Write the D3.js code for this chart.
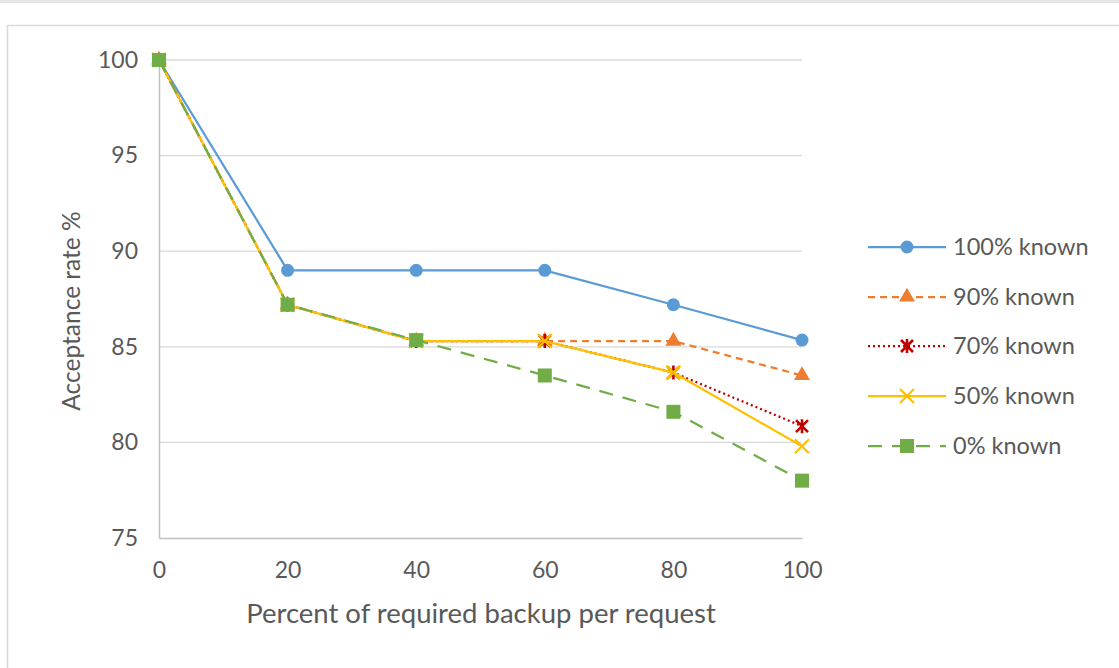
<!DOCTYPE html>
<html><head><meta charset="utf-8">
<script src="https://cdn.jsdelivr.net/npm/d3@7"></script>
<style>body{margin:0;background:#fff;} svg{display:block;}</style>
</head><body>
<svg id="chart" width="1119" height="668"></svg>
<script>
const xValues = [0, 20, 40, 60, 80, 100];
const yTicks = [75, 80, 85, 90, 95, 100];
const seriesNames = ["100% known", "90% known", "70% known", "50% known", "0% known"];
const known100 = [100, 89.0, 89.0, 89.0, 87.2, 85.35];
const known90 = [100, 87.2, 85.3, 85.3, 85.3, 83.5];
const known70 = [100, 87.2, 85.3, 85.3, 83.65, 80.85];
const known50 = [100, 87.2, 85.3, 85.3, 83.65, 79.8];
const known0 = [100, 87.2, 85.35, 83.5, 81.6, 78.0];
const xTitle = "Percent of required backup per request";
const yTitle = "Acceptance rate %";

const seriesValues = [known100, known90, known70, known50, known0];
const styles = [
  {color:"#5B9BD5", dash:null, marker:"circle", width:2.25},
  {color:"#ED7D31", dash:"7,5", marker:"triangle", width:2.25},
  {color:"#C00000", dash:"2,3", marker:"star", width:2.25},
  {color:"#FFC000", dash:null, marker:"x", width:2.25},
  {color:"#70AD47", dash:"14,10", marker:"square", width:2.25}
];

const svg = d3.select("#chart");
const font = "Lato, 'Open Sans', sans-serif";
const textColor = "#595959";

svg.append("rect").attr("x",0).attr("y",0).attr("width",1119).attr("height",3).attr("fill","#e6e6e6");
svg.append("rect").attr("x",7.5).attr("y",25.5).attr("width",1120).attr("height",650)
  .attr("fill","#fff").attr("stroke","#d9d9d9").attr("stroke-width",1.5);

const x = d3.scaleLinear().domain([0,100]).range([159,802]);
const y = d3.scaleLinear().domain([75,100]).range([538,60]);

svg.append("g").selectAll("line").data(yTicks.filter(d=>d>75)).join("line")
  .attr("x1",x(0)).attr("x2",x(100)).attr("y1",d=>y(d)).attr("y2",d=>y(d))
  .attr("stroke","#d9d9d9").attr("stroke-width",1.3);

const yAxis = d3.axisLeft(y).tickValues(yTicks).tickSize(0).tickPadding(21);
const gy = svg.append("g").attr("transform",`translate(${x(0)},0)`).call(yAxis);
gy.select(".domain").attr("stroke","#bfbfbf").attr("stroke-width",1.5);
gy.selectAll("text").attr("font-family",font).attr("font-size",23).attr("fill",textColor);

const xAxis = d3.axisBottom(x).tickValues(xValues).tickSize(0).tickPadding(24);
const gx = svg.append("g").attr("transform",`translate(0,${y(75)})`).call(xAxis);
gx.select(".domain").attr("stroke","#bfbfbf").attr("stroke-width",1.5);
gx.selectAll("text").attr("font-family",font).attr("font-size",23).attr("fill",textColor);

svg.append("text").attr("x",481).attr("y",623).attr("text-anchor","middle")
  .attr("font-family",font).attr("font-size",27.5).attr("fill",textColor).text(xTitle);
svg.append("text").attr("transform",`translate(80,${y(87.5)+12}) rotate(-90)`).attr("text-anchor","middle")
  .attr("font-family",font).attr("font-size",24.5).attr("fill",textColor).text(yTitle);

function drawMarker(g, type, color, cx, cy){
  if(type==="circle"){
    g.append("circle").attr("cx",cx).attr("cy",cy).attr("r",6.5).attr("fill",color);
  } else if(type==="triangle"){
    g.append("path").attr("d",d3.symbol(d3.symbolTriangle,110)()).attr("transform",`translate(${cx},${cy})`).attr("fill",color);
  } else if(type==="square"){
    g.append("rect").attr("x",cx-7).attr("y",cy-7).attr("width",14).attr("height",14).attr("fill",color);
  } else if(type==="x"){
    g.append("path").attr("d",`M${cx-7},${cy-7}L${cx+7},${cy+7}M${cx-7},${cy+7}L${cx+7},${cy-7}`)
      .attr("stroke",color).attr("stroke-width",2.2).attr("fill","none");
  } else if(type==="star"){
    g.append("path").attr("d",`M${cx-6},${cy-6}L${cx+6},${cy+6}M${cx-6},${cy+6}L${cx+6},${cy-6}M${cx},${cy-7}L${cx},${cy+7}`)
      .attr("stroke",color).attr("stroke-width",2.6).attr("fill","none");
  }
}

const line = d3.line().x((d,i)=>x(xValues[i])).y(d=>y(d));
seriesValues.forEach((vals,si)=>{
  const st = styles[si];
  const g = svg.append("g");
  g.append("path").datum(vals).attr("d",line).attr("fill","none")
    .attr("stroke",st.color).attr("stroke-width",st.width)
    .attr("stroke-dasharray",st.dash);
  vals.forEach((v,i)=>drawMarker(g, st.marker, st.color, x(xValues[i]), y(v)));
});

const legendY = [247, 297, 346, 396, 446];
seriesNames.forEach((name,i)=>{
  const st = styles[i];
  const g = svg.append("g");
  g.append("line").attr("x1",868).attr("x2",946).attr("y1",legendY[i]).attr("y2",legendY[i])
    .attr("stroke",st.color).attr("stroke-width",st.width).attr("stroke-dasharray",st.dash);
  drawMarker(g, st.marker, st.color, 907, legendY[i]);
  g.append("text").attr("x",953).attr("y",legendY[i]+8).attr("font-family",font).attr("font-size",23.5)
    .attr("fill",textColor).text(name);
});
</script>
</body></html>
